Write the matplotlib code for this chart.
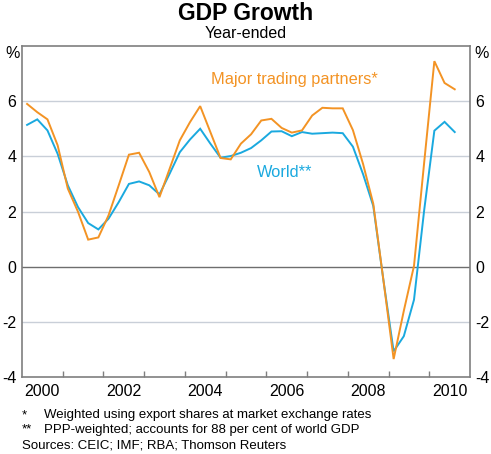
import matplotlib
matplotlib.use("Agg")
import matplotlib.pyplot as plt
from matplotlib.ticker import FixedLocator, NullFormatter
import numpy as np
import pandas as pd

plt.rcParams['font.family'] = ['Liberation Sans', 'DejaVu Sans']

# Quarterly observations, 2000Q1 - 2010Q3
quarters = pd.period_range('2000Q1', '2010Q3', freq='Q')

major_trading_partners = [
    5.90, 5.60, 5.34, 4.40, 2.83, 1.99, 0.98, 1.06, 1.86, 2.95,
    4.06, 4.13, 3.43, 2.52, 3.55, 4.58, 5.24, 5.82, 4.88, 3.94,
    3.89, 4.46, 4.80, 5.30, 5.36, 5.03, 4.86, 4.94, 5.48, 5.76,
    5.74, 5.74, 4.95, 3.72, 2.28, -0.50, -3.35, -1.60, 0.03, 3.78,
    7.45, 6.66, 6.43,
]
world = [
    5.14, 5.34, 4.94, 4.09, 2.95, 2.16, 1.58, 1.35, 1.74, 2.34,
    3.00, 3.09, 2.95, 2.62, 3.37, 4.15, 4.61, 5.00, 4.46, 3.95,
    4.01, 4.13, 4.30, 4.58, 4.90, 4.91, 4.73, 4.88, 4.82, 4.84,
    4.86, 4.84, 4.35, 3.35, 2.20, -0.50, -3.07, -2.52, -1.20, 2.05,
    4.93, 5.25, 4.88,
]
year_labels = ['2000', '2002', '2004', '2006', '2008', '2010']
y_ticks = [-4, -2, 0, 2, 4, 6]

title = 'GDP Growth'
subtitle = 'Year-ended'
footnotes = [
    ('*', 'Weighted using export shares at market exchange rates'),
    ('**', 'PPP-weighted; accounts for 88 per cent of world GDP'),
]
sources = 'Sources: CEIC; IMF; RBA; Thomson Reuters'

ORANGE = '#F39324'
BLUE = '#1AA9DF'
GRID = '#C9CFD8'
SPINE = '#7F7F7F'
TICKFS = 11.5

x = np.array([q.year + (q.quarter - 0.5) / 4 for q in quarters])

fig = plt.figure(figsize=(4.91, 4.54), dpi=100)
ax = fig.add_axes([22 / 491, 1 - 377 / 454, 448 / 491, 331 / 454])

ax.set_xlim(2000, 2011)
ax.set_ylim(-4, 8)

for v in y_ticks[1:]:
    if v == 0:
        continue
    ax.axhline(v, color=GRID, lw=1.0, zorder=1)
ax.axhline(0, color='#6E6E6E', lw=1.0, zorder=1)

ax.plot(x, world, color=BLUE, lw=1.4, zorder=3, solid_joinstyle='miter')
ax.plot(x, major_trading_partners, color=ORANGE, lw=1.4, zorder=4, solid_joinstyle='miter')

for s in ax.spines.values():
    s.set_color(SPINE)
    s.set_linewidth(1.2)

# x ticks: marks at year boundaries, labels at mid-year
ax.xaxis.set_major_locator(FixedLocator(np.arange(2001, 2011)))
ax.xaxis.set_major_formatter(NullFormatter())
ax.tick_params(axis='x', which='major', direction='in', length=4, width=1, color=SPINE)
ax.set_xticks([int(y) + 0.5 for y in year_labels], minor=True)
ax.set_xticklabels(year_labels, minor=True, fontsize=TICKFS)
ax.tick_params(axis='x', which='minor', length=0, pad=5)

ax.set_yticks(y_ticks)
ax.set_yticklabels([str(v) for v in y_ticks], fontsize=TICKFS)
ax.tick_params(axis='y', which='both', length=0, pad=4, labelleft=True, labelright=True)

ax.text(-0.006, 0.976, '%', transform=ax.transAxes, ha='right', va='center', fontsize=TICKFS)
ax.text(1.009, 0.976, '%', transform=ax.transAxes, ha='left', va='center', fontsize=TICKFS)

ax.text(2006.69, 6.77, 'Major trading partners*', color=ORANGE, fontsize=11.8, ha='center', va='center')
ax.text(2006.44, 3.40, 'World**', color=BLUE, fontsize=11.8, ha='center', va='center')

fig.text(0.5, 1 - 13 / 454, title, ha='center', va='center', fontsize=16.5, fontweight='bold')
fig.text(0.5, 1 - 33 / 454, subtitle, ha='center', va='center', fontsize=11.5)

fy = [415, 429.5]
for (mark, txt), yy in zip(footnotes, fy):
    fig.text(22 / 491, 1 - yy / 454, mark, ha='left', va='center', fontsize=9.5)
    fig.text(44 / 491, 1 - yy / 454, txt, ha='left', va='center', fontsize=9.5)
fig.text(22 / 491, 1 - 445 / 454, sources, ha='left', va='center', fontsize=9.5)

fig.savefig('out.png', dpi=100)
